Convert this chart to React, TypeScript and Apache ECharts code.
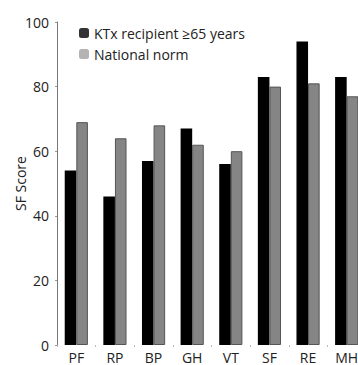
import React, { useEffect, useRef } from "react";
import * as echarts from "echarts";

const categories = ["PF", "RP", "BP", "GH", "VT", "SF", "RE", "MH"];
const ktxValues = [54, 46, 57, 67, 56, 83, 94, 83];
const normValues = [69, 64, 68, 62, 60, 80, 81, 77];
const seriesNames = ["KTx recipient \u226565 years", "National norm"];
const yTicks = { min: 0, max: 100, interval: 20 };

export default function App() {
  const ref = useRef<HTMLDivElement>(null);

  useEffect(() => {
    if (!ref.current) return;
    const chart = echarts.init(ref.current, null, { renderer: "svg" });
    const font = "'Open Sans', 'Noto Sans', sans-serif";
    chart.setOption({
      animation: false,
      textStyle: { fontFamily: font },
      grid: {
        left: 57,
        top: 22,
        width: 309,
        bottom: 20,
        containLabel: false,
        outerBoundsMode: "none",
      },
      legend: {
        left: 74,
        top: 21,
        orient: "vertical",
        itemWidth: 10,
        itemHeight: 10,
        itemGap: 7,
        textStyle: { fontSize: 14, color: "#222", fontFamily: font },
        data: [
          { name: seriesNames[0], itemStyle: { color: "#333", borderWidth: 0 } },
          { name: seriesNames[1], itemStyle: { color: "#b3b3b3", borderWidth: 0 } },
        ],
      },
      xAxis: {
        type: "category",
        data: categories,
        axisLine: { show: false },
        axisTick: { show: true, length: 2, lineStyle: { color: "#bbb" } },
        axisLabel: { fontSize: 14, lineHeight: 14, color: "#222", margin: 5, fontFamily: font },
      },
      yAxis: {
        type: "value",
        min: yTicks.min,
        max: yTicks.max,
        interval: yTicks.interval,
        name: "SF Score",
        nameLocation: "middle",
        nameGap: 30,
        nameMoveOverlap: false,
        nameTextStyle: { fontSize: 14, color: "#222", fontFamily: font },
        axisLine: { show: true, lineStyle: { color: "#777", width: 1 } },
        axisTick: { show: true, length: 2, lineStyle: { color: "#999" } },
        splitLine: { show: false },
        axisLabel: { fontSize: 14, color: "#222", margin: 8, fontFamily: font },
      },
      series: [
        {
          name: seriesNames[0],
          type: "bar",
          data: ktxValues,
          barGap: "0%",
          barCategoryGap: "40%",
          itemStyle: { color: "#000" },
        },
        {
          name: seriesNames[1],
          type: "bar",
          data: normValues,
          itemStyle: { color: "#858585", borderColor: "#555", borderWidth: 1 },
        },
      ],
    });
    return () => chart.dispose();
  }, []);

  return <div ref={ref} style={{ width: 358, height: 365, position: "absolute", left: 0, top: 0 }} />;
}
